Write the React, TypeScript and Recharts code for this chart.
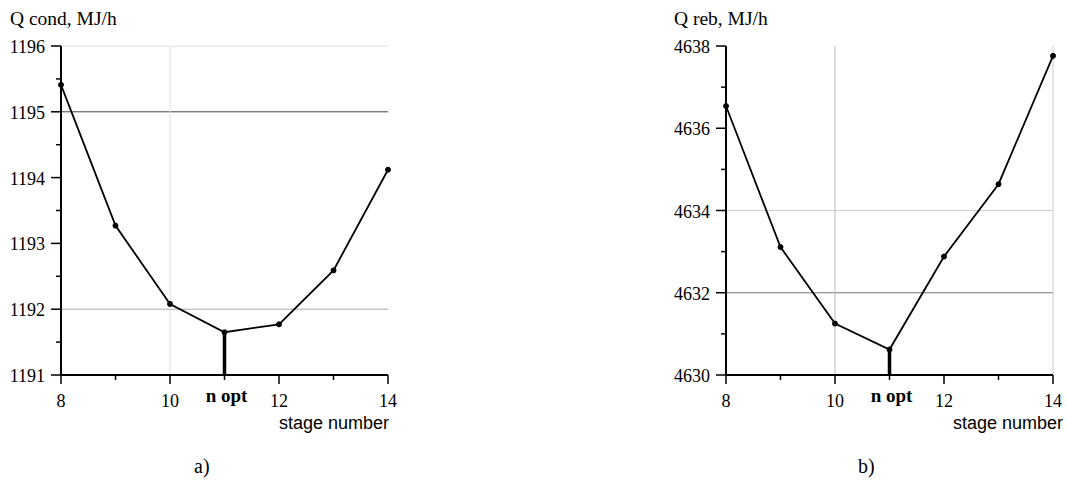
import { LineChart, Line, XAxis, YAxis, ReferenceLine } from 'recharts';

// stage numbers on the x axis
const stages = [8, 9, 10, 11, 12, 13, 14];
const xLabelTicks = [8, 10, 12, 14];
const nOpt = 11;

// condenser duty, MJ/h
const qCond = [1195.41, 1193.27, 1192.08, 1191.65, 1191.77, 1192.59, 1194.12];
const condTicks = [1191, 1191.5, 1192, 1192.5, 1193, 1193.5, 1194, 1194.5, 1195, 1195.5, 1196];
const condLabelTicks = [1191, 1192, 1193, 1194, 1195, 1196];

// reboiler duty, MJ/h
const qReb = [4636.54, 4633.11, 4631.25, 4630.62, 4632.88, 4634.64, 4637.76];
const rebTicks = [4630, 4631, 4632, 4633, 4634, 4635, 4636, 4637, 4638];
const rebLabelTicks = [4630, 4632, 4634, 4636, 4638];

const SERIF = '"Liberation Serif", "Times New Roman", serif';
const SANS = '"Liberation Sans", Arial, sans-serif';

type GridLine = { x?: number; y?: number; color: string };

interface PanelProps {
  values: number[];
  title: string;
  caption: string;
  yDomain: [number, number];
  yTicks: number[];
  yLabels: number[];
  grid: GridLine[];
  left: number;
  width: number;
  yAxisWidth: number;
  marginRight: number;
  titleX: number;
  captionX: number;
  stageRight: number;
}

const XTick = (props: any) => {
  const { x, y, payload } = props;
  const v = payload.value;
  const major = xLabelTicks.includes(v);
  return (
    <g>
      <line x1={x} x2={x} y1={y} y2={y + (major ? 9 : 5)} stroke="#000" strokeWidth={1.5} />
      {major && (
        <text x={x} y={y + 32} textAnchor="middle" fontFamily={SERIF} fontSize={18} fill="#000">
          {v}
        </text>
      )}
      {v === nOpt && (
        <text x={x + 2} y={y + 27} textAnchor="middle" fontFamily={SERIF} fontSize={19} fontWeight="bold" fill="#000">
          n opt
        </text>
      )}
    </g>
  );
};

const makeYTick = (labels: number[]) => (props: any) => {
  const { x, y, payload } = props;
  const major = labels.includes(payload.value);
  return (
    <g>
      <line x1={x - (major ? 10 : 5)} x2={x} y1={y} y2={y} stroke="#000" strokeWidth={1.5} />
      {major && (
        <text x={x - 16} y={y + 7} textAnchor="end" fontFamily={SERIF} fontSize={18} fill="#000">
          {payload.value}
        </text>
      )}
    </g>
  );
};

function Panel(p: PanelProps) {
  const data = stages.map((s, i) => ({ stage: s, q: p.values[i] }));
  const optValue = p.values[stages.indexOf(nOpt)];
  return (
    <div style={{ position: 'absolute', left: p.left, top: 0, width: p.width, height: 481 }}>
      <LineChart
        width={p.width}
        height={481}
        data={data}
        margin={{ top: 46, right: p.marginRight, bottom: 46, left: 0 }}
      >
        {p.grid.map((g, i) =>
          g.x !== undefined ? (
            <ReferenceLine key={i} x={g.x} stroke={g.color} strokeWidth={1} />
          ) : (
            <ReferenceLine key={i} y={g.y} stroke={g.color} strokeWidth={1} />
          )
        )}
        <XAxis
          dataKey="stage"
          type="number"
          domain={[stages[0], stages[stages.length - 1]]}
          ticks={stages}
          interval={0}
          height={60}
          tickSize={0}
          tickMargin={0}
          tick={XTick}
          axisLine={{ stroke: '#000', strokeWidth: 2 }}
        />
        <YAxis
          type="number"
          domain={p.yDomain}
          ticks={p.yTicks}
          interval={0}
          width={p.yAxisWidth}
          tickSize={0}
          tickMargin={0}
          tick={makeYTick(p.yLabels)}
          axisLine={{ stroke: '#000', strokeWidth: 2 }}
        />
        <ReferenceLine
          segment={[
            { x: nOpt, y: p.yDomain[0] },
            { x: nOpt, y: optValue },
          ]}
          stroke="#000"
          strokeWidth={3.5}
        />
        <Line
          type="linear"
          dataKey="q"
          stroke="#000"
          strokeWidth={1.8}
          dot={{ r: 2.5, fill: '#000', stroke: '#000', strokeWidth: 1 }}
          isAnimationActive={false}
        />
      </LineChart>
      <svg
        width={p.width}
        height={481}
        style={{ position: 'absolute', left: 0, top: 0, pointerEvents: 'none' }}
      >
        <text x={p.titleX} y={24.5} fontFamily={SERIF} fontSize={19.5} fill="#000">
          {p.title}
        </text>
        <text x={p.stageRight} y={429} textAnchor="end" fontFamily={SANS} fontSize={18} fill="#000">
          stage number
        </text>
        <text x={p.captionX} y={473} fontFamily={SERIF} fontSize={20} fill="#000">
          {p.caption}
        </text>
      </svg>
    </div>
  );
}

export default function App() {
  return (
    <div style={{ position: 'absolute', left: 0, top: 0, width: 1067, height: 481, background: '#fff' }}>
      <Panel
        values={qCond}
        title="Q cond, MJ/h"
        caption="a)"
        yDomain={[1191, 1196]}
        yTicks={condTicks}
        yLabels={condLabelTicks}
        grid={[
          { y: 1196, color: '#e2e2e2' },
          { y: 1195, color: '#444' },
          { y: 1192, color: '#aaa' },
          { x: 10, color: '#e2e2e2' },
        ]}
        left={0}
        width={533}
        yAxisWidth={61}
        marginRight={145}
        titleX={10}
        captionX={194}
        stageRight={389}
      />
      <Panel
        values={qReb}
        title="Q reb, MJ/h"
        caption="b)"
        yDomain={[4630, 4638]}
        yTicks={rebTicks}
        yLabels={rebLabelTicks}
        grid={[
          { y: 4634, color: '#d0d0d0' },
          { y: 4632, color: '#777' },
          { x: 10, color: '#bbb' },
          { x: 14, color: '#ccc' },
        ]}
        left={533}
        width={534}
        yAxisWidth={193}
        marginRight={14}
        titleX={141}
        captionX={325}
        stageRight={530}
      />
    </div>
  );
}
